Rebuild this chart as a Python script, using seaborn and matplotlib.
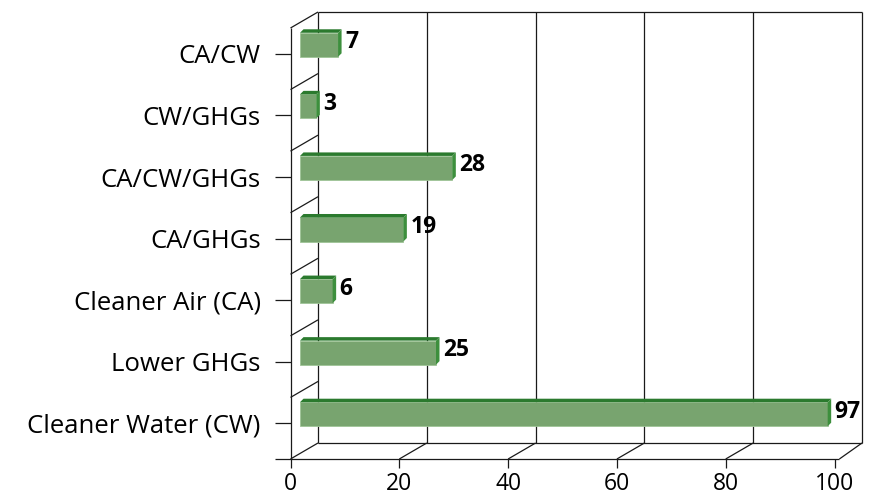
import numpy as np
import pandas as pd
import matplotlib
matplotlib.use("Agg")
import matplotlib.pyplot as plt
import matplotlib.transforms as mtransforms
from matplotlib.patches import Polygon
import seaborn as sns

# Survey counts per benefit category (top to bottom)
categories = ["CA/CW", "CW/GHGs", "CA/CW/GHGs", "CA/GHGs",
              "Cleaner Air (CA)", "Lower GHGs", "Cleaner Water (CW)"]
counts = [7, 3, 28, 19, 6, 25, 97]
x_ticks = [0, 20, 40, 60, 80, 100]

FRONT = "#78a46f"
TOP = "#2b7a2e"
SIDE = "#3d8f3d"
LINE = "#1a1a1a"

sns.set_theme(style="white")
plt.rcParams["font.family"] = ["Open Sans", "DejaVu Sans"]

W, H, DPI = 879, 498, 100
fig = plt.figure(figsize=(W / DPI, H / DPI), dpi=DPI)
ax = fig.add_axes([290.5 / W, 39 / H, 544 / W, 431 / H])

df = pd.DataFrame({"category": categories, "count": counts})
sns.barplot(data=df, x="count", y="category", orient="h", width=0.39,
            color=FRONT, saturation=1, ax=ax, zorder=3)
ax.set_xlim(0, 100)
ax.set_ylim(len(categories) - 0.5, -0.5)
for s in ax.spines.values():
    s.set_visible(False)

# pixel scale of the data axes
px_x = 544 / 100
px_y = 431 / len(categories)

# depth of the 3-D box (back wall offset) in data units
DX = 27.5 / px_x
DY = 16 / px_y
y_top, y_bot = -0.5, len(categories) - 0.5
lk = dict(color=LINE, lw=0.9, clip_on=False, zorder=1, solid_capstyle="butt")

# back wall with vertical gridlines
ax.plot([DX, 100 + DX], [y_top - DY, y_top - DY], **lk)
ax.plot([DX, 100 + DX], [y_bot - DY, y_bot - DY], **lk)
ax.plot([DX, DX], [y_top - DY, y_bot - DY], **lk)
ax.plot([100 + DX, 100 + DX], [y_top - DY, y_bot - DY], **lk)
for t in x_ticks[1:-1]:
    ax.plot([t + DX, t + DX], [y_top - DY, y_bot - DY], **lk)

# floor
for t in x_ticks[:-1]:
    ax.plot([t, t + DX], [y_bot, y_bot - DY], **lk)
ax.plot([100.9, 100 + DX], [y_bot, y_bot - DY], **lk)
ax.plot([-16 / px_x, 100.9], [y_bot, y_bot], **lk)

# left wall: front edge and category dividers
ax.plot([0, 0], [y_top, y_bot], **lk)
for k in range(len(categories)):
    ax.plot([0, DX], [y_top + k, y_top + k - DY], **lk)

# bars sit partway into the box depth
shift = mtransforms.ScaledTranslation(9.5 / DPI, 14 / DPI, fig.dpi_scale_trans)
bar_tr = ax.transData + shift
sx, sy = 3.5 / px_x, 3.5 / px_y
for p in ax.patches:
    p.set_transform(bar_tr)
    p.set_edgecolor("#9fc497")
    p.set_linewidth(0.6)
    x0, y0, w, h = p.get_x(), p.get_y(), p.get_width(), p.get_height()
    top = Polygon([(x0, y0), (x0 + w, y0), (x0 + w + sx, y0 - sy), (x0 + sx, y0 - sy)],
                  closed=True, facecolor=TOP, edgecolor="none",
                  transform=bar_tr, zorder=3, clip_on=False)
    side = Polygon([(x0 + w, y0), (x0 + w + sx, y0 - sy),
                    (x0 + w + sx, y0 + h - sy), (x0 + w, y0 + h)],
                   closed=True, facecolor=SIDE, edgecolor="none",
                   transform=bar_tr, zorder=3, clip_on=False)
    ax.add_patch(top)
    ax.add_patch(side)

for k, v in enumerate(counts):
    ax.annotate(str(v), xy=(v, k), xytext=(16.5, 16.5), textcoords="offset pixels",
                ha="left", va="center", fontsize=16.5, fontweight="bold",
                color="black", annotation_clip=False)

ax.set_xticks(x_ticks)
ax.set_xticklabels([str(t) for t in x_ticks], fontsize=16.5)
ax.set_yticks(np.arange(len(categories)) - 0.08)
ax.set_yticklabels(categories, fontsize=18.5)
ax.tick_params(axis="x", bottom=True, length=6.5, width=0.9, color=LINE,
               pad=3, labelcolor="black")
ax.tick_params(axis="y", left=True, length=11.5, width=0.9, color=LINE,
               pad=10, labelcolor="black")
ax.set_xlabel("")
ax.set_ylabel("")
ax.grid(False)
ax.set_facecolor("none")

fig.savefig("out.png", dpi=DPI, facecolor="white")
